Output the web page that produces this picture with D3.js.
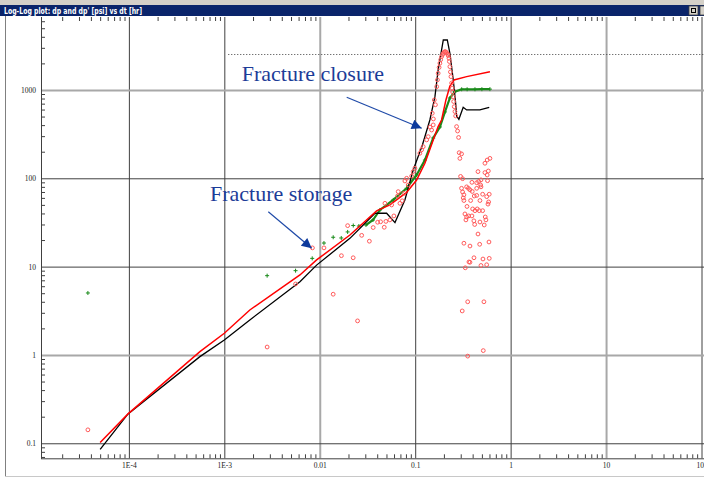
<!DOCTYPE html>
<html>
<head>
<meta charset="utf-8">
<script src="https://cdn.jsdelivr.net/npm/d3@7"></script>
<style>
  body { margin: 0; background: #fff; }
  svg { display: block; }
</style>
</head>
<body>
<svg id="chart" width="704" height="479"></svg>
<script>
// axis ticks and labels
const majorX = [1e-4, 1e-3, 0.01, 0.1, 1, 10, 100];
const xLabels = ["1E-4", "1E-3", "0.01", "0.1", "1", "10", "100"];
const majorY = [0.1, 1, 10, 100, 1000];
const yLabels = ["0.1", "1", "10", "100", "1000"];
const lightX = [0.01, 10];
const lightY = [1, 1000];

// dp (black line)
const dpT = [5.0e-5, 9.8e-5, 5.55e-4, 1.0e-3, 1.85e-3, 6.2e-3, 9.27e-3, 0.0207, 0.0379, 0.0502, 0.0614, 0.078, 0.0953, 0.119, 0.1425, 0.161, 0.174, 0.197, 0.217, 0.231, 0.2506, 0.2655, 0.2716, 0.287, 0.3184, 0.346, 0.476, 0.597];
const dpP = [0.0855, 0.215, 0.957, 1.48, 2.49, 6.76, 10.4, 20.9, 40.2, 40.2, 31.5, 56.9, 124, 238, 457, 839, 1684, 3681, 3681, 2600, 1298, 706, 508, 465, 637, 594, 594, 637];

// red line
const redT = [5.0e-5, 9.8e-5, 5.55e-4, 1.0e-3, 1.85e-3, 6.2e-3, 9.27e-3, 0.0207, 0.0394, 0.0543, 0.0813, 0.1035, 0.1264, 0.1545, 0.174, 0.189, 0.210, 0.231, 0.255, 0.346, 0.607];
const redP = [0.102, 0.215, 1.09, 1.76, 3.23, 8.05, 11.9, 22.8, 42.7, 49.9, 69.1, 95.7, 148, 272, 385, 457, 771, 1110, 1298, 1416, 1611];

// green crosses, sparse part and dense part
const grnT = [3.72e-5, 2.81e-3, 5.58e-3, 8.34e-3, 0.01107, 0.01383, 0.0168, 0.0196, 0.02245, 0.0257];
const grnP = [5.03, 7.9, 9.0, 12.4, 18.5, 21.5, 21.1, 24.7, 29.2, 28.8];
const grnDenseT = [0.0305, 0.0361, 0.0427, 0.0589, 0.0813, 0.1035, 0.1264, 0.1545, 0.1815, 0.205, 0.231, 0.2606, 0.307, 0.35, 0.423, 0.5, 0.607];
const grnDenseP = [29.6, 33.7, 43.8, 56.9, 77.1, 109, 161, 286, 381, 564, 811, 957, 1018, 1018, 1018, 1020, 1022];

// dp' (red circles)
const drvT = [3.72e-5, 2.81e-3, 5.58e-3, 8.38e-3, 0.01107, 0.01383, 0.01686, 0.0196, 0.0224, 0.0249, 0.0275, 0.0331, 0.0363, 0.0404, 0.0434, 0.0474, 0.0482, 0.0493, 0.0543, 0.0566, 0.0598, 0.0654, 0.0664, 0.0692, 0.0731, 0.0762, 0.078, 0.0813, 0.0845, 0.0918, 0.0953, 0.0993, 0.112, 0.1167, 0.1213, 0.1318, 0.137, 0.1486, 0.1545, 0.151, 0.1585, 0.168, 0.174, 0.1815, 0.189, 0.197, 0.205, 0.2133, 0.2187, 0.226, 0.231, 0.237, 0.2444, 0.2506, 0.2566, 0.2655, 0.2716,
  0.143, 0.155, 0.163, 0.171, 0.178, 0.185, 0.193, 0.201, 0.209, 0.222, 0.228, 0.234, 0.241, 0.247, 0.253, 0.261,
  0.278, 0.285, 0.289, 0.306, 0.294, 0.299, 0.314, 0.538, 0.568, 0.607, 0.455, 0.538, 0.584, 0.568, 0.573, 0.393, 0.441, 0.462, 0.489, 0.485, 0.306, 0.346, 0.361, 0.375, 0.396, 0.441, 0.489, 0.314, 0.324, 0.319, 0.324, 0.416, 0.441, 0.509, 0.561, 0.597, 0.381, 0.477, 0.588, 0.579, 0.349, 0.400, 0.423, 0.447, 0.469, 0.509, 0.332, 0.346, 0.363, 0.393, 0.412, 0.340, 0.542, 0.551, 0.477, 0.529, 0.420, 0.455, 0.324, 0.375, 0.474, 0.593, 0.413, 0.513, 0.597, 0.366, 0.375, 0.335, 0.489, 0.561, 0.355, 0.525, 0.311, 0.517, 0.355];
const drvP = [0.142, 1.23, 6.36, 16.3, 16.3, 4.87, 13.3, 29.1, 12.6, 2.43, 22.6, 19.4, 27.7, 31.8, 32.2, 27.9, 52.1, 32.5, 33.8, 49.9, 37.5, 63.1, 70.6, 52.1, 55.6, 67.6, 93.3, 100, 84, 106, 119, 130, 192, 210, 228, 272, 296, 352, 402, 545, 771, 1090, 1545, 2006, 2383, 2600, 2716, 2643, 2558, 2286, 1837, 1416, 1045, 839, 647, 508, 385,
  380, 470, 680, 1300, 1800, 2200, 2500, 2680, 2700, 2450, 2100, 1600, 1200, 950, 740, 570,
  343, 290, 195, 189, 168, 105, 99, 148, 161, 168, 119, 116, 121, 109, 94, 90, 89, 92, 96, 84, 77, 80, 77, 74, 71, 77, 80, 70, 65, 60, 56, 63, 64, 66, 62, 66, 56, 56, 54, 51, 48, 45, 43, 45, 43, 43, 39.5, 36.5, 37.5, 37.5, 33, 33.8, 36.5, 33.8, 32, 29.6, 30, 23.4, 18.4, 17.1, 17.9, 19, 12.6, 12.2, 12.4, 11.3, 11.2, 9.7, 10.3, 10.5, 4.0, 4.0, 3.15, 1.12, 0.97];

// dotted reference level
const refLevel = 2530;
const refStart = 1.1e-3;

const W = 704, H = 479;
const plotL = 41, plotR = 701.5, plotT = 17, plotB = 458.3;

const svg = d3.select("#chart");

const x = d3.scaleLog().domain([1.2e-5, 100]).range([plotL, plotR]);
const y = d3.scaleLog().domain([0.0676, 6700]).range([plotB, plotT]);

// minor tick positions (2..9 of each decade)
const minorX = [];
for (let e = -5; e <= 1; e++) for (let m = 2; m <= 9; m++) {
  const v = m * Math.pow(10, e);
  if (v > 1.2e-5 && v < 100) minorX.push(v);
}
const minorY = [];
for (let e = -2; e <= 3; e++) for (let m = 2; m <= 9; m++) {
  const v = m * Math.pow(10, e);
  if (v > 0.0676 && v < 6700) minorY.push(v);
}

// window frame and title bar
svg.append("rect").attr("width", W).attr("height", H).attr("fill", "#fff");
svg.append("rect").attr("x", 0).attr("y", 0).attr("width", W).attr("height", 5).attr("fill", "#d4d0c8");
svg.append("rect").attr("x", 0).attr("y", 5).attr("width", W).attr("height", 11).attr("fill", "#0a246a");
svg.append("text")
  .attr("x", 4).attr("y", 14)
  .attr("fill", "#fff")
  .attr("font-family", "'DejaVu Sans', sans-serif")
  .attr("font-weight", "bold")
  .attr("font-size", 8)
  .attr("textLength", 138)
  .attr("lengthAdjust", "spacingAndGlyphs")
  .text("Log-Log plot: dp and dp' [psi] vs dt [hr]");
svg.append("rect").attr("x", 689).attr("y", 6).attr("width", 9).attr("height", 9)
  .attr("fill", "#d4d0c8").attr("stroke", "#404040").attr("stroke-width", 0.8);
svg.append("rect").attr("x", 691.5).attr("y", 8.5).attr("width", 4).attr("height", 4)
  .attr("fill", "none").attr("stroke", "#000").attr("stroke-width", 1);
svg.append("rect").attr("x", 700).attr("y", 6).attr("width", 9).attr("height", 9)
  .attr("fill", "#d4d0c8").attr("stroke", "#404040").attr("stroke-width", 0.8);
svg.append("line").attr("x1", 5.5).attr("x2", 5.5).attr("y1", 16).attr("y2", 477)
  .attr("stroke", "#808080");
svg.append("line").attr("x1", 5).attr("x2", W).attr("y1", 476.5).attr("y2", 476.5)
  .attr("stroke", "#c8c8c8");

// gridlines
const gridX = svg.append("g")
  .attr("transform", `translate(0,${plotB})`)
  .call(d3.axisBottom(x).tickValues(majorX).tickSize(-(plotB - plotT)).tickFormat(""));
gridX.select(".domain").remove();
gridX.selectAll(".tick line")
  .attr("stroke", d => lightX.includes(d) ? "#a8a8a8" : "#404040")
  .attr("stroke-width", d => lightX.includes(d) ? 2 : 1);

const gridY = svg.append("g")
  .attr("transform", `translate(${plotL},0)`)
  .call(d3.axisLeft(y).tickValues(majorY).tickSize(-(W - plotL)).tickFormat(""));
gridY.select(".domain").remove();
gridY.selectAll(".tick line")
  .attr("stroke", d => lightY.includes(d) ? "#a8a8a8" : "#404040")
  .attr("stroke-width", d => lightY.includes(d) ? 2 : 1);

// minor ticks
const tickColor = "#404040";
const botTicks = svg.append("g").attr("transform", `translate(0,${plotB})`)
  .call(d3.axisBottom(x).tickValues(minorX).tickSize(-4).tickFormat(""));
botTicks.select(".domain").remove();
botTicks.selectAll(".tick line").attr("stroke", tickColor);

const topTicks = svg.append("g").attr("transform", `translate(0,${plotT})`)
  .call(d3.axisTop(x).tickValues(minorX).tickSize(-4).tickFormat(""));
topTicks.select(".domain").remove();
topTicks.selectAll(".tick line").attr("stroke", tickColor);

const leftTicks = svg.append("g").attr("transform", `translate(${plotL},0)`)
  .call(d3.axisLeft(y).tickValues(minorY).tickSize(-4).tickFormat(""));
leftTicks.select(".domain").remove();
leftTicks.selectAll(".tick line").attr("stroke", tickColor);

// axis lines
svg.append("line").attr("x1", plotL + 0.5).attr("x2", plotL + 0.5).attr("y1", plotT).attr("y2", plotB + 0.5)
  .attr("stroke", "#404040");
svg.append("line").attr("x1", plotL).attr("x2", W).attr("y1", plotB + 0.5).attr("y2", plotB + 0.5)
  .attr("stroke", "#404040");

// tick labels
const xAxis = svg.append("g").attr("transform", `translate(0,${plotB})`)
  .call(d3.axisBottom(x).tickValues(majorX).tickSize(0).tickPadding(4)
    .tickFormat((d, i) => xLabels[i]));
xAxis.select(".domain").remove();
xAxis.attr("font-family", "'Liberation Serif', serif").attr("font-size", 7.5);
xAxis.selectAll("text").attr("fill", "#222");

const yAxis = svg.append("g").attr("transform", `translate(${plotL},0)`)
  .call(d3.axisLeft(y).tickValues(majorY).tickSize(0).tickPadding(5)
    .tickFormat((d, i) => yLabels[i]));
yAxis.select(".domain").remove();
yAxis.attr("font-family", "'Liberation Serif', serif").attr("font-size", 7.5);
yAxis.selectAll("text").attr("fill", "#222");

// dotted reference line
svg.append("line")
  .attr("x1", x(refStart)).attr("x2", W)
  .attr("y1", Math.round(y(refLevel)) + 0.5).attr("y2", Math.round(y(refLevel)) + 0.5)
  .attr("stroke", "#404040").attr("stroke-dasharray", "1,2");

// series
const line = d3.line().x(d => x(d[0])).y(d => y(d[1]));
const plus = "M-2,0H2M0,-2V2";

svg.append("path").datum(d3.zip(grnDenseT, grnDenseP))
  .attr("fill", "none").attr("stroke", "#1a8a1a").attr("stroke-width", 2.2).attr("d", line);
svg.append("g").selectAll("path")
  .data(d3.zip(grnT.concat(grnDenseT), grnP.concat(grnDenseP)))
  .join("path")
  .attr("transform", d => `translate(${x(d[0])},${y(d[1])})`)
  .attr("d", plus)
  .attr("stroke", "#1a8a1a").attr("stroke-width", 1).attr("fill", "none");

svg.append("path").datum(d3.zip(dpT, dpP))
  .attr("fill", "none").attr("stroke", "#000").attr("stroke-width", 1.3).attr("d", line);

svg.append("path").datum(d3.zip(redT, redP))
  .attr("fill", "none").attr("stroke", "#ff0000").attr("stroke-width", 1.5).attr("d", line);

svg.append("g").selectAll("circle")
  .data(d3.zip(drvT, drvP))
  .join("circle")
  .attr("cx", d => x(d[0])).attr("cy", d => y(d[1])).attr("r", 1.9)
  .attr("fill", "none").attr("stroke", "#ff5a5a").attr("stroke-width", 1);

// annotations
const noteColor = "#1c3c98";
svg.append("defs").append("marker")
  .attr("id", "ah").attr("viewBox", "0 0 10 10")
  .attr("refX", 10).attr("refY", 5)
  .attr("markerWidth", 12).attr("markerHeight", 10)
  .attr("markerUnits", "userSpaceOnUse").attr("orient", "auto")
  .append("path").attr("d", "M0,0L10,5L0,10z").attr("fill", "#0d3a9c");

const notes = [
  { text: "Fracture closure", tx: 241.7, ty: 81, x1: 346.7, y1: 97.3, x2: 421.7, y2: 128.3 },
  { text: "Fracture storage", tx: 210, ty: 201, x1: 268.3, y1: 211.7, x2: 311.7, y2: 248.3 }
];
notes.forEach(n => {
  svg.append("text").attr("x", n.tx).attr("y", n.ty)
    .attr("font-family", "'Liberation Serif', 'Times New Roman', serif")
    .attr("font-size", 22).attr("fill", noteColor).text(n.text);
  svg.append("line").attr("x1", n.x1).attr("y1", n.y1).attr("x2", n.x2).attr("y2", n.y2)
    .attr("stroke", "#1f4aa8").attr("stroke-width", 1.2).attr("marker-end", "url(#ah)");
});
</script>
</body>
</html>
